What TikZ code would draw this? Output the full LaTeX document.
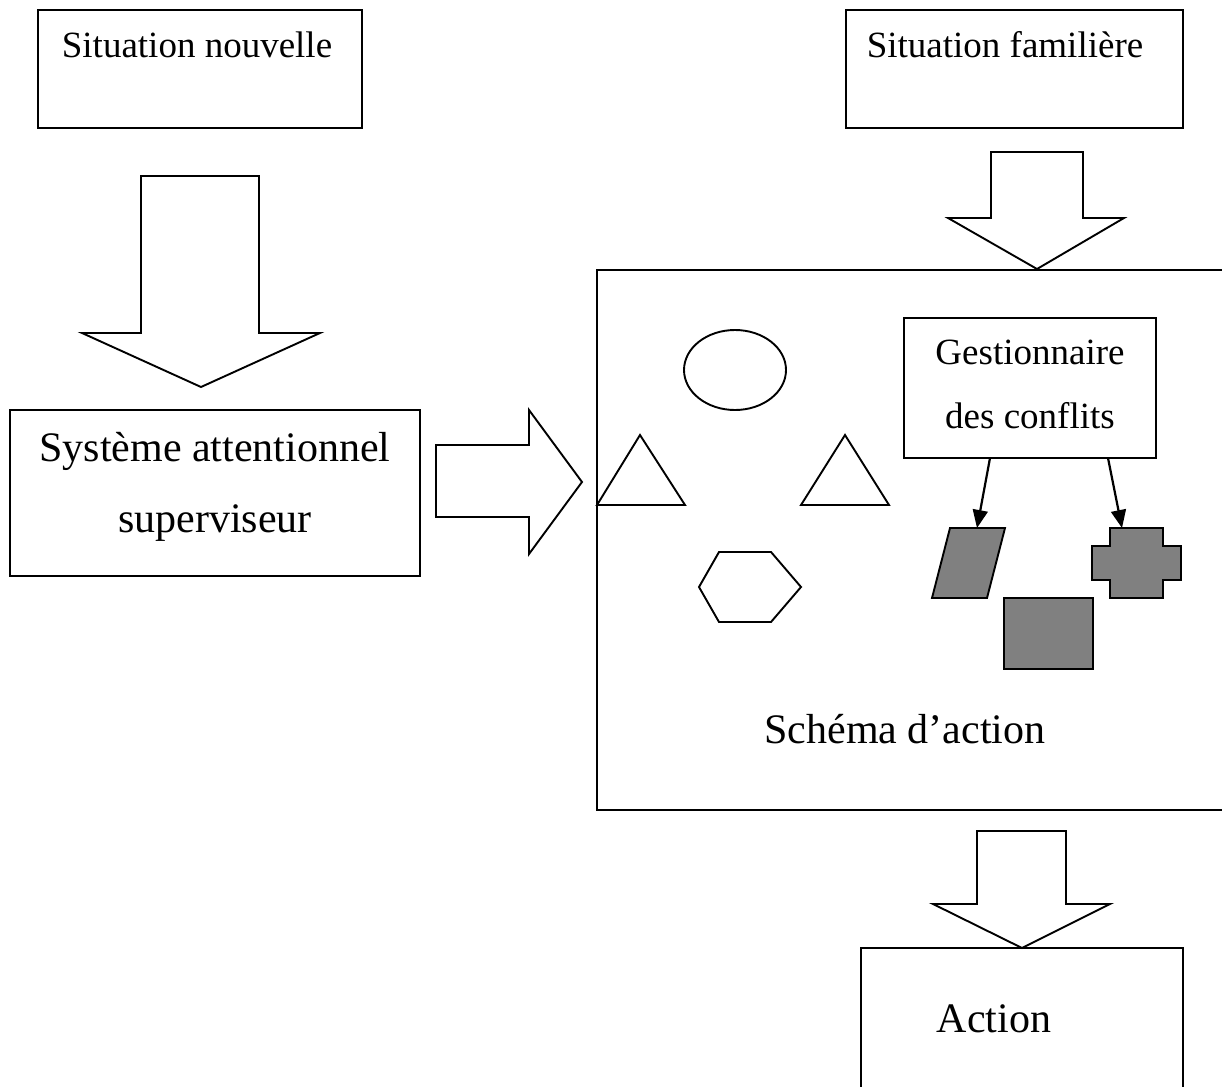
\documentclass[tikz,border=0pt]{standalone}
\usepackage{fontspec}
\setmainfont{Liberation Serif}
\usetikzlibrary{arrows.meta}
\begin{document}
\begin{tikzpicture}[x=1pt,y=-1pt,
  lw/.style={line width=1.9pt},
  boxnode/.style={draw,lw,rectangle,inner sep=0pt,outer sep=0pt},
  txtA/.style={font=\fontsize{37}{44}\selectfont,inner sep=0pt},
  txtB/.style={font=\fontsize{42}{50}\selectfont,inner sep=0pt},
  blockarrow/.style={draw,lw,fill=white,line join=miter},
  greyshape/.style={draw,lw,fill=black!50,line join=miter},
  whiteshape/.style={draw,lw,line join=miter},
  thinarrow/.style={draw,line width=2.2pt,-{Triangle[length=18pt,width=15pt]}}]
\useasboundingbox (0,0) rectangle (1222,1086);
\clip (0,0) rectangle (1222,1086);

% boxes
\node[boxnode,minimum width=324,minimum height=118] (nouv) at (200,69) {};
\node[txtA] (nouvt) at (197,45) {Situation nouvelle};
\node[boxnode,minimum width=337,minimum height=118] (fam) at (1014.5,69) {};
\node[txtA] (famt) at (1005,45) {Situation familière};
\node[boxnode,minimum width=410,minimum height=166] (sas) at (215,493) {};
\node[txtB] (sast1) at (215,451) {Système attentionnel};
\node[txtB] (sast2) at (215,523) {superviseur};
\node[boxnode,minimum width=650,minimum height=540] (schema) at (922,540) {};
\node[txtB] (schemat) at (905,729) {Schéma d’action};
\node[boxnode,minimum width=252,minimum height=140] (gest) at (1030,388) {};
\node[txtA] (gestt1) at (1030,352) {Gestionnaire};
\node[txtA] (gestt2) at (1030,416) {des conflits};
\node[boxnode,minimum width=322,minimum height=180] (action) at (1022,1038) {};
\node[txtB] (actiont) at (994,1019) {Action};

% block arrows
\path[blockarrow] (141,176) -- (259,176) -- (259,333) -- (320,333) -- (201,387)
  -- (82,333) -- (141,333) -- cycle;
\path[blockarrow] (436,445) -- (529,445) -- (529,410) -- (582,482) -- (529,554)
  -- (529,517) -- (436,517) -- cycle;
\path[blockarrow] (991,152) -- (1083,152) -- (1083,218) -- (1124,218) -- (1037,269)
  -- (948,218) -- (991,218) -- cycle;
\path[blockarrow] (977,831) -- (1066,831) -- (1066,904) -- (1110,904) -- (1022,948)
  -- (933,904) -- (977,904) -- cycle;

% white shapes
\draw[whiteshape] (735,370) ellipse [x radius=51,y radius=40];
\draw[whiteshape] (640,435) -- (685,505) -- (597,505) -- cycle;
\draw[whiteshape] (845,435) -- (889,505) -- (801,505) -- cycle;
\draw[whiteshape] (719,552) -- (771,552) -- (801,587) -- (771,622) -- (719,622)
  -- (699,587) -- cycle;

% grey shapes
\path[greyshape] (950,528) -- (1005,528) -- (987,598) -- (932,598) -- cycle;
\path[greyshape] (1110,528) -- (1163,528) -- (1163,546) -- (1181,546) -- (1181,580)
  -- (1163,580) -- (1163,598) -- (1110,598) -- (1110,580) -- (1092,580)
  -- (1092,546) -- (1110,546) -- cycle;
\path[greyshape] (1004,598) rectangle (1093,669);

% thin arrows
\coordinate (g1) at (990,458);
\coordinate (g2) at (1108,458);
\coordinate (para) at (977,528);
\coordinate (cross) at (1122,528);
\draw[thinarrow] (g1) -- (para);
\draw[thinarrow] (g2) -- (cross);
\end{tikzpicture}
\end{document}
